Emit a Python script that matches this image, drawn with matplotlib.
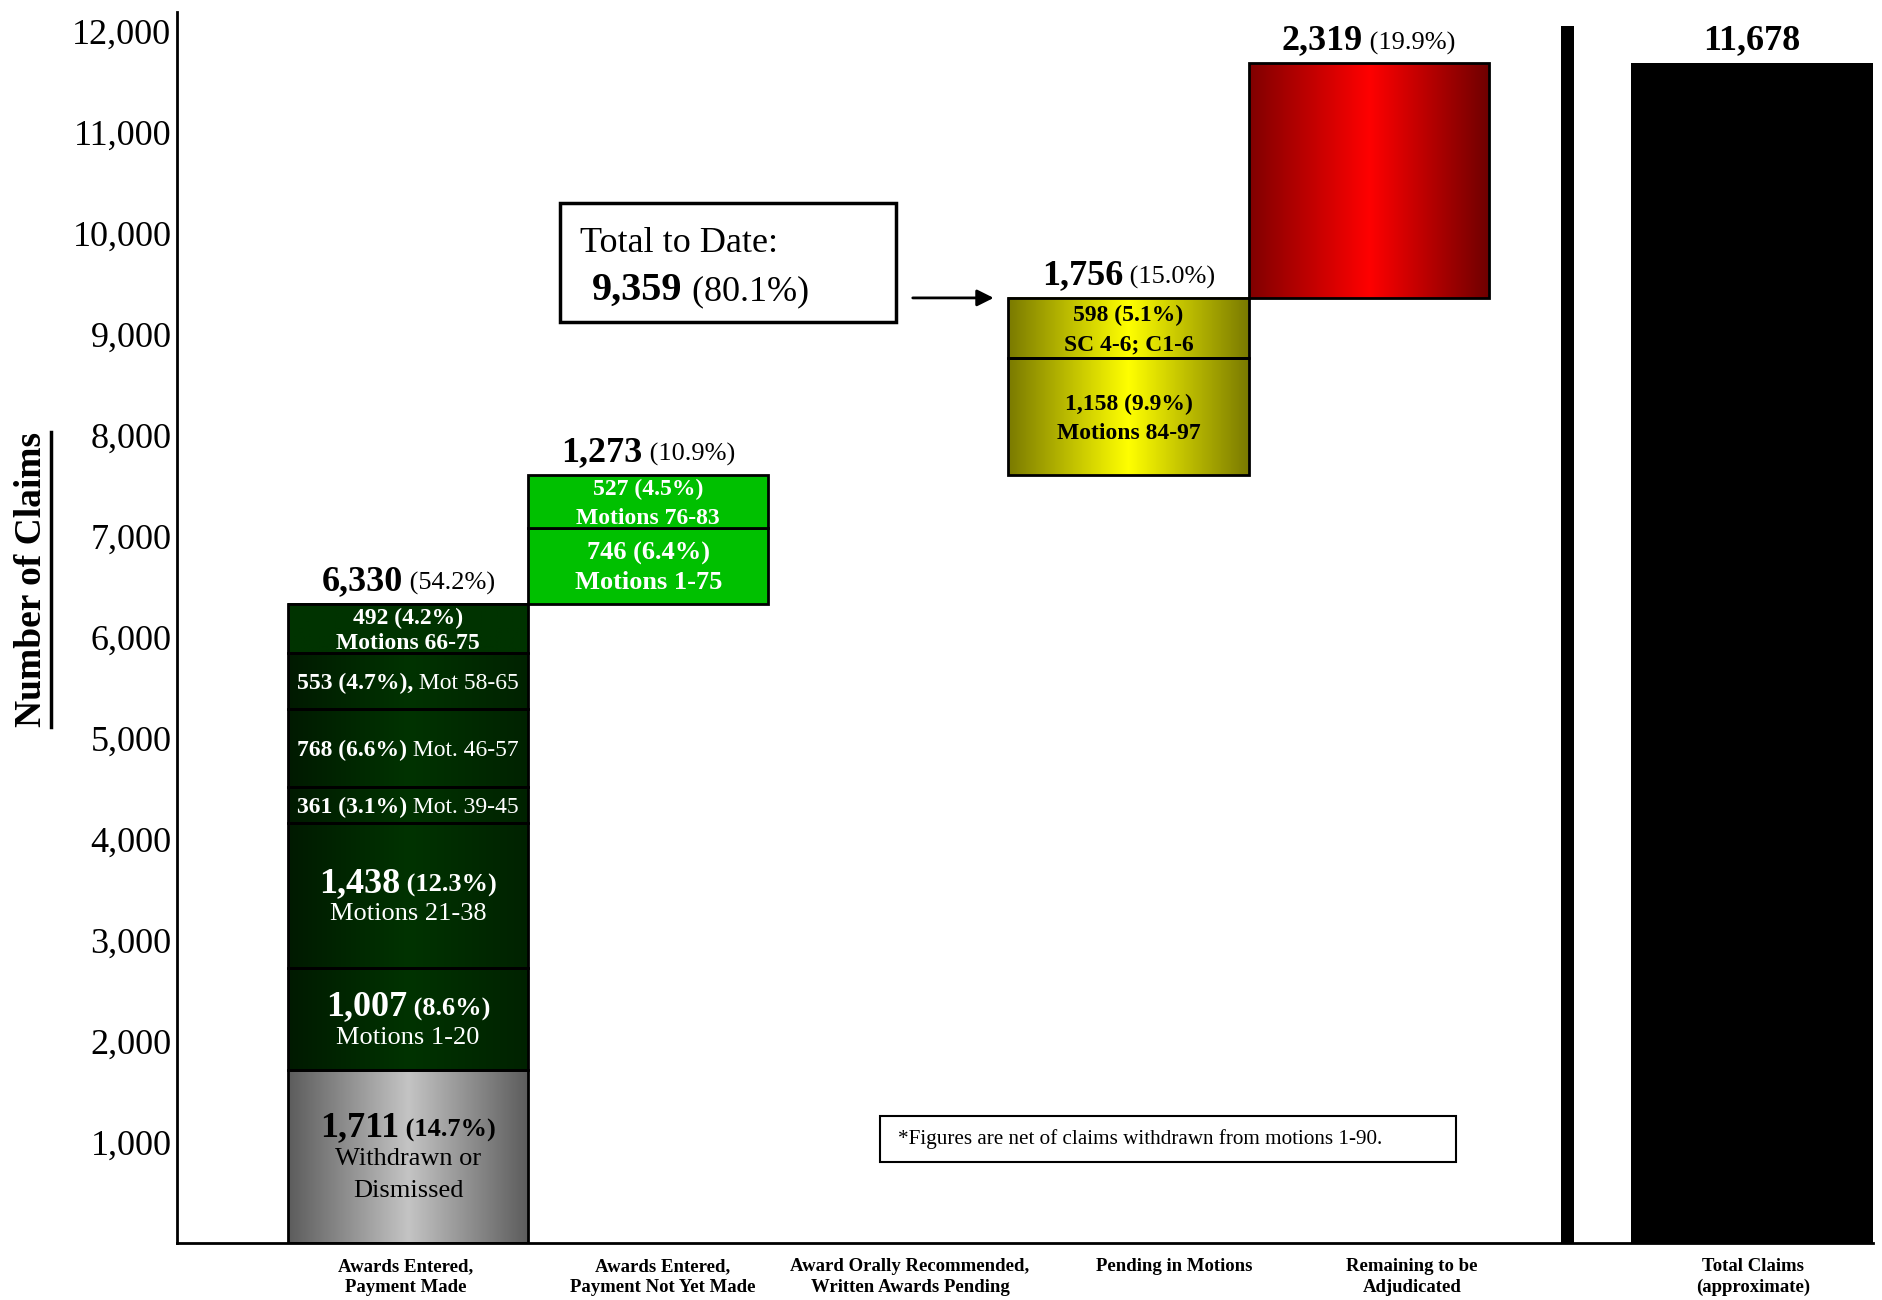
import numpy as np
import matplotlib.pyplot as plt
import matplotlib.transforms as mtransforms
from matplotlib.colors import LinearSegmentedColormap
from matplotlib.patches import Rectangle
from matplotlib.lines import Line2D
from matplotlib.ticker import FuncFormatter

plt.rcParams['font.family'] = ['Liberation Serif', 'DejaVu Serif']

# ---------------------------------------------------------------- data
categories = ["Awards Entered,\nPayment Made", "Awards Entered,\nPayment Not Yet Made",
              "Award Orally Recommended,\nWritten Awards Pending", "Pending in Motions",
              "Remaining to be\nAdjudicated", "Total Claims\n(approximate)"]

# awards entered, payment made (bottom -> top)
paid_values = [1711, 1007, 1438, 361, 768, 553, 492]
paid_pct = [14.7, 8.6, 12.3, 3.1, 6.6, 4.7, 4.2]
paid_notes = ["Withdrawn or\nDismissed", "Motions 1-20", "Motions 21-38",
              "Mot. 39-45", "Mot. 46-57", "Mot 58-65", "Motions 66-75"]

# awards entered, payment not yet made
unpaid_values = [746, 527]
unpaid_pct = [6.4, 4.5]
unpaid_notes = ["Motions 1-75", "Motions 76-83"]

# pending in motions
pending_values = [1158, 598]
pending_pct = [9.9, 5.1]
pending_notes = ["Motions 84-97", "SC 4-6; C1-6"]

remaining_value = 2319
total_claims = 11678

group_totals = [6330, 1273, 1756, 2319]
group_pct = [54.2, 10.9, 15.0, 19.9]
to_date_total = 9359
to_date_pct = 80.1

# ---------------------------------------------------------------- layout
fig = plt.figure(figsize=(18.83, 13.0), dpi=100)
ax = fig.add_axes([0.094, 0.044, 0.9007, 0.947])
renderer = fig.canvas.get_renderer()

group_x = [0, 1, 3, 4]
label_x = [-0.01, 1.06, 2.09, 3.19, 4.18, 5.60]
total_x = 5.596


def fill_gradient(patch, colors):
    cmap = LinearSegmentedColormap.from_list('grad', colors)
    x0, y0 = patch.get_x(), patch.get_y()
    grad = np.linspace(0, 1, 256).reshape(1, -1)
    ax.imshow(grad, cmap=cmap, aspect='auto', interpolation='bilinear', zorder=2,
              extent=(x0, x0 + patch.get_width(), y0, y0 + patch.get_height()))


def rich_line(x, y, parts, color, dy=0.0, ha='center'):
    texts = [ax.text(x, y, s, fontsize=sz, fontweight=w, color=color,
                     ha='left', va='baseline', zorder=5) for s, sz, w in parts]
    widths = [t.get_window_extent(renderer).width * 72 / fig.dpi for t in texts]
    off = -sum(widths) / 2 if ha == 'center' else 0.0
    for t, wd in zip(texts, widths):
        t.set_transform(mtransforms.offset_copy(ax.transData, fig=fig, x=off, y=dy, units='points'))
        off += wd


def segment_lines(v, p, note, style, size=19, sep=""):
    num, pct = f"{v:,}", f"({p:.1f}%)"
    if style == "big":
        lines = [[(num, 26, 'bold'), (" " + pct, 19, 'bold')]]
        lines += [[(s, 19, 'normal')] for s in note.split("\n")]
    elif style == "inline":
        lines = [[(f"{num} {pct}{sep}", size, 'bold'), (" " + note, size, 'normal')]]
    else:
        lines = [[(f"{num} {pct}", size, 'bold')], [(note, size, 'bold')]]
    return lines


def draw_block(x, yc, lines, color, lh=23):
    n = len(lines)
    for i, parts in enumerate(lines):
        sz = max(p[1] for p in parts)
        rich_line(x, yc, parts, color, dy=((n - 1) / 2 - i) * lh - 0.33 * sz)


# ---------------------------------------------------------------- bar 1
paid_bottoms = np.concatenate([[0], np.cumsum(paid_values)[:-1]])
bars1 = ax.bar([group_x[0]] * len(paid_values), paid_values, bottom=paid_bottoms, width=1.0,
               facecolor='none', edgecolor='black', linewidth=2, zorder=3)
paid_styles = ["big", "big", "big", "inline", "inline", "inline", "stack"]
paid_seps = ["", "", "", "", "", ",", ""]
paid_sizes = [19, 19, 19, 17, 17, 17, 17]
for i, b in enumerate(bars1):
    if i == 0:
        fill_gradient(b, ['#5c5c5c', '#c4c4c4', '#5c5c5c'])
        col = 'black'
    elif i == len(bars1) - 1:
        fill_gradient(b, ['#003300', '#003300'])
        col = 'white'
    else:
        fill_gradient(b, ['#001a00', '#003300', '#002200'])
        col = 'white'
    lines = segment_lines(paid_values[i], paid_pct[i], paid_notes[i], paid_styles[i],
                          size=paid_sizes[i], sep=paid_seps[i])
    draw_block(b.get_x() + b.get_width() / 2, b.get_y() + b.get_height() / 2, lines, col,
               lh=18 if i == len(bars1) - 1 else 23)

# ---------------------------------------------------------------- bar 2
base2 = group_totals[0]
unpaid_bottoms = base2 + np.concatenate([[0], np.cumsum(unpaid_values)[:-1]])
bars2 = ax.bar([group_x[1]] * 2, unpaid_values, bottom=unpaid_bottoms, width=1.0,
               color='#00c000', edgecolor='black', linewidth=2, zorder=3)
for i, b in enumerate(bars2):
    lines = segment_lines(unpaid_values[i], unpaid_pct[i], unpaid_notes[i], "stack",
                          size=19 if i == 0 else 17)
    draw_block(b.get_x() + 0.5, b.get_y() + b.get_height() / 2, lines, 'white', lh=21)

# ---------------------------------------------------------------- bar 3 (pending)
base3 = base2 + sum(unpaid_values)
pending_bottoms = base3 + np.concatenate([[0], np.cumsum(pending_values)[:-1]])
bars3 = ax.bar([group_x[2]] * 2, pending_values, bottom=pending_bottoms, width=1.0,
               facecolor='none', edgecolor='black', linewidth=2, zorder=3)
for i, b in enumerate(bars3):
    fill_gradient(b, ['#7a7a00', '#ffff00', '#7a7a00'])
    lines = segment_lines(pending_values[i], pending_pct[i], pending_notes[i], "stack", size=17)
    draw_block(b.get_x() + 0.5, b.get_y() + b.get_height() / 2, lines, 'black', lh=21)

# ---------------------------------------------------------------- bar 4 (remaining)
base4 = base3 + sum(pending_values)
bar4 = ax.bar(group_x[3], remaining_value, bottom=base4, width=1.0,
              facecolor='none', edgecolor='black', linewidth=2, zorder=3)[0]
fill_gradient(bar4, ['#800000', '#ff0000', '#6e0000'])

# separator and total
ax.bar(4.827, 12050, width=0.054, color='black', zorder=3)
ax.bar(total_x, total_claims, width=1.01, color='black', zorder=3)

# group totals above bars
tops = [group_totals[0], base3, base4, base4 + remaining_value]
for gx, top, v, p in zip(group_x, tops, group_totals, group_pct):
    rich_line(gx, top, [(f"{v:,}", 26, 'bold'), (f" ({p:.1f}%)", 19, 'normal')], 'black', dy=10)
rich_line(total_x, total_claims, [(f"{total_claims:,}", 26, 'bold')], 'black', dy=10)

# total to date box + arrow
ax.add_patch(Rectangle((0.633, 9119), 1.399, 1178, fill=False, linewidth=2.5, zorder=4))
ax.text(0.716, 9812, "Total to Date:", fontsize=26, va='baseline', zorder=5)
rich_line(0.766, 9337, [(f"{to_date_total:,}", 29, 'bold'), (f" ({to_date_pct:.1f}%)", 26, 'normal')],
          'black', ha='left')
ax.annotate("", xy=(2.45, 9356), xytext=(2.09, 9356),
            arrowprops=dict(arrowstyle='-|>', color='black', lw=2, mutation_scale=25))

# footnote
ax.add_patch(Rectangle((1.965, 802), 2.398, 455, fill=False, linewidth=1.5, zorder=4))
ax.text(2.04, 1030, "*Figures are net of claims withdrawn from motions 1-90.",
        fontsize=15.2, va='center', zorder=5)

# ---------------------------------------------------------------- axes
ax.set_xlim(-0.962, 6.1)
ax.set_ylim(0, 12190)
ax.set_yticks(range(1000, 12001, 1000))
ax.yaxis.set_major_formatter(FuncFormatter(lambda v, _: f"{int(v):,}"))
ax.tick_params(axis='y', length=0, pad=4, labelsize=26)
ax.set_xticks(label_x, categories, fontsize=13.5, fontweight='bold', linespacing=1.3)
ax.tick_params(axis='x', length=0, pad=11)
for s in ['top', 'right']:
    ax.spines[s].set_visible(False)
for s in ['left', 'bottom']:
    ax.spines[s].set_linewidth(2)

ylab = fig.text(0.0168, 0.5546, "Number of Claims", rotation=90, fontsize=27,
                fontweight='bold', ha='center', va='center')
bb = ylab.get_window_extent(renderer).transformed(fig.transFigure.inverted())
fig.add_artist(Line2D([bb.x1 + 0.001] * 2, [bb.y0, bb.y1], color='black', lw=2.5,
                      transform=fig.transFigure))

fig.savefig("out.png", dpi=100)
